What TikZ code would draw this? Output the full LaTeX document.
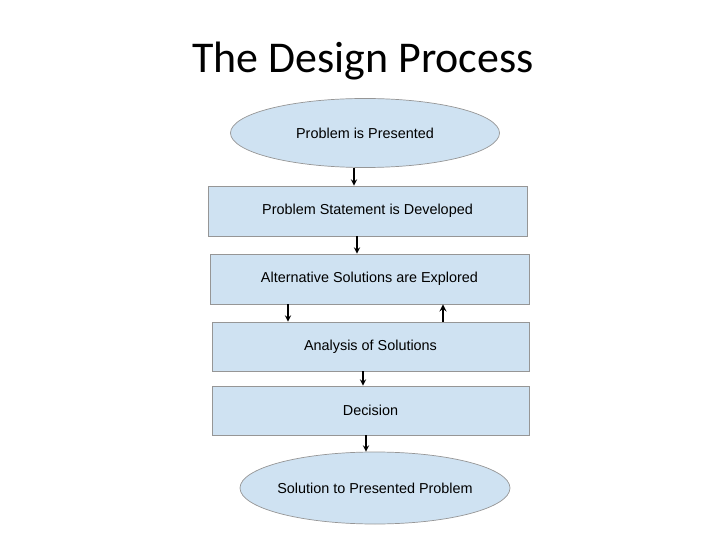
\documentclass[tikz,border=0pt]{standalone}
\usepackage{fontspec}
\setmainfont{Liberation Sans}
\newfontfamily\titlefont{Carlito}
\usetikzlibrary{shapes.geometric, arrows}
\definecolor{boxblue}{RGB}{207,226,242}
\definecolor{edgegray}{RGB}{150,150,150}
\tikzstyle{startstop} = [ellipse, 
minimum width=5.38cm, 
minimum height=1.38cm,
inner xsep=-12pt,
inner ysep=0pt,
text centered, 
draw=edgegray, 
fill=boxblue,
font=\fontsize{8.2}{10}\selectfont]
\tikzstyle{process} = [rectangle, 
minimum width=6.38cm, 
minimum height=1cm, 
inner sep=0pt,
text centered, 
draw=edgegray, 
fill=boxblue,
font=\fontsize{8.2}{10}\selectfont]
\tikzstyle{arrow} = [semithick,->,>=stealth]

\begin{document}
\begin{tikzpicture}[node distance=1.36cm]
\useasboundingbox (0,0) rectangle (14.4,-10.8);

\node (title) at (7.26,-1.22) {\titlefont\fontsize{25}{30}\selectfont The Design Process};
\node (start) [startstop] at (7.30,-2.66) {Problem is Presented};
\node (pro1) [process, below of=start, yshift=-0.2cm, xshift=0.05cm] {Problem Statement is Developed};
\node (pro2) [process, below of=pro1, xshift=0.04cm] {Alternative Solutions are Explored};
\node (pro3) [process, below of=pro2, yshift=0.01cm, xshift=0.02cm, minimum width=6.34cm, minimum height=0.98cm] {Analysis of Solutions};
\node (pro4) [process, below of=pro3, yshift=0.08cm, minimum width=6.34cm, minimum height=0.98cm] {Decision};
\node (stop) [startstop, below of=pro4, yshift=-0.19cm, xshift=0.09cm, minimum width=5.4cm, minimum height=1.44cm] {Solution to Presented Problem};

\draw [arrow] ([xshift=-0.22cm]start.south) -- ([xshift=-0.22cm]start.south |- pro1.north);
\draw [arrow] ([xshift=-0.21cm]pro1.south) -- ([xshift=-0.21cm]pro1.south |- pro2.north);
\draw [arrow] ([xshift=-1.63cm]pro2.south) -- ([xshift=-1.63cm]pro2.south |- pro3.north);
\draw [arrow, thick] ([xshift=1.45cm]pro3.north) -- ([xshift=1.45cm]pro3.north |- pro2.south);
\draw [arrow] ([xshift=-0.15cm]pro3.south) -- ([xshift=-0.15cm]pro3.south |- pro4.north);
\draw [arrow] ([xshift=-0.09cm]pro4.south) -- ([xshift=-0.09cm]pro4.south |- stop.north);
\end{tikzpicture}
\end{document}
